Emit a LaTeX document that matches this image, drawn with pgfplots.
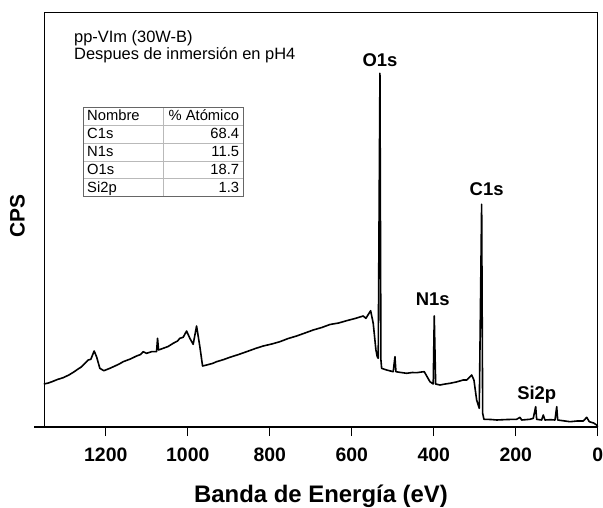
\documentclass[border=0pt]{standalone}
\usepackage{pgfplots}
\pgfplotsset{compat=1.18}
\usepackage{fontspec}
\setmainfont{Liberation Sans}
\begin{document}
\begin{tikzpicture}
\path[use as bounding box] (-44.3bp,-81bp) rectangle (558.7bp,427bp);
\begin{axis}[
  at={(0,0)}, anchor=south west,
  scale only axis, width=553.4bp, height=414.7bp,
  x dir=reverse, xmin=0, xmax=1350, ymin=0, ymax=414.7,
  axis line style={line width=1.2bp},
  xtick={0,200,...,1200}, ytick=\empty,
  xtick pos=bottom, tick align=outside, major tick length=9bp,
  tick style={line width=1.2bp, black},
  /pgf/number format/1000 sep={},
  /pgf/number format/assume math mode=true,
  xticklabel style={font=\fontsize{19.5}{22}\selectfont\bfseries, anchor=base, yshift=-25.7bp},
  xlabel={Banda de Energía (eV)},
  xlabel style={font=\fontsize{24}{28}\selectfont\bfseries, at={(axis description cs:0.5,0)}, anchor=base, yshift=-75.7bp},
  ylabel={CPS},
  ylabel style={font=\fontsize{21}{24}\selectfont\bfseries, at={(axis description cs:-0.0484,0.509)}, anchor=center},
  clip=false,
]
\addplot[line width=1.6bp, black, line join=round] table {
x y
1351 43
1340 44
1330 45.5
1318 47.5
1304 49.3
1290 52
1280 54.5
1271 57
1260 60
1251 63.7
1243 67
1236.5 67.7
1228.4 76
1222.5 70.3
1214.5 58.7
1204.7 56.3
1190 58.7
1175 61.5
1165 63.5
1157.6 65.3
1140 68
1124.9 71
1115 72.5
1108.8 75.3
1100.5 73.7
1088.3 75.3
1076.1 75.3
1073.7 88.7
1071.3 77
1060 78.7
1048 80.5
1035.6 83.7
1025 86
1019.3 88.7
1011.2 89.7
1002.9 96
994.9 88.7
986.8 82.7
978.5 101
970.5 80.3
963.9 61
954.1 62
940 63.5
929.7 65.3
912 67.5
897.3 69.7
876 72.5
856.5 75.3
835 78.5
816 81
795 83
775.3 85.3
755 88.5
734.5 91
714 94
694 97
673 99.5
653.2 102.5
632 104
612.5 106.3
592 108.5
572 111
565.4 108.7
553.9 116.3
547.6 103.7
541 77
537.8 70.3
535.4 68.7
531.2 353.7
528.8 67
527.1 58.7
514.9 57
498.8 55.3
494.6 70.3
492.2 55.3
480 54.5
466.1 53.7
452 54.5
441.7 54.3
430 55
423.1 55.3
409.2 45.3
401.2 43
398.7 111
395.3 43
384.8 42
372 43
360.4 43.7
345 45
328 47
319.7 47
307.5 52
301.9 47
295.3 27
288.9 18.7
283.1 222.7
280.6 13.7
277.5 7.7
260 7.5
246.5 7
220 7.5
197.7 7.7
189.6 9.7
185.5 7
165.2 7.7
157.2 8.7
151.3 20.3
148.9 7.7
136.7 7
132.7 12
128.6 7
115 7.3
104.2 7
100 20.3
97.6 7
80 6
67.6 5.3
50 6
35.1 6
26.8 9.7
20.5 5.3
10 4
2.4 2
0 0.3
};
\node[font=\fontsize{18.5}{21}\selectfont\bfseries] at (axis cs:531,366.7) {O1s};
\node[font=\fontsize{18.5}{21}\selectfont\bfseries] at (axis cs:270.9,238) {C1s};
\node[font=\fontsize{18.5}{21}\selectfont\bfseries] at (axis cs:402.4,128) {N1s};
\node[font=\fontsize{18.5}{21}\selectfont\bfseries] at (axis cs:148.6,32.2) {Si2p};
\end{axis}
\begin{scope}[shift={(-44.3bp,427bp)}, x=1bp, y=-1bp]
\draw[line width=1.2bp] (34.5,427) -- (44.3,427);
\node[anchor=base west, font=\fontsize{16.5}{19}\selectfont, inner sep=0pt] at (74,42.7) {pp-VIm (30W-B)};
\node[anchor=base west, font=\fontsize{16.5}{19}\selectfont, inner sep=0pt] at (74,60) {Despues de inmersión en pH4};
% table
\foreach \r in {1,2,3,4} {\draw[gray!55, line width=0.8bp] (83.3,107.3+17.88*\r) -- (243.3,107.3+17.88*\r);}
\draw[gray!55, line width=0.8bp] (163.3,107.3) -- (163.3,196.7);
\draw[gray!80!black, line width=0.9bp] (83.3,107.3) rectangle (243.3,196.7);
\foreach \t/\v [count=\i from 0] in {Nombre/\% Atómico, C1s/68.4, N1s/11.5, O1s/18.7, Si2p/1.3} {
  \node[anchor=base west, font=\fontsize{14.8}{16}\selectfont, inner sep=0pt] at (87,107.3+17.88*\i+13.5) {\t};
  \node[anchor=base east, font=\fontsize{14.8}{16}\selectfont, inner sep=0pt] at (239.3,107.3+17.88*\i+13.5) {\v};
}
\end{scope}
\end{tikzpicture}
\end{document}
